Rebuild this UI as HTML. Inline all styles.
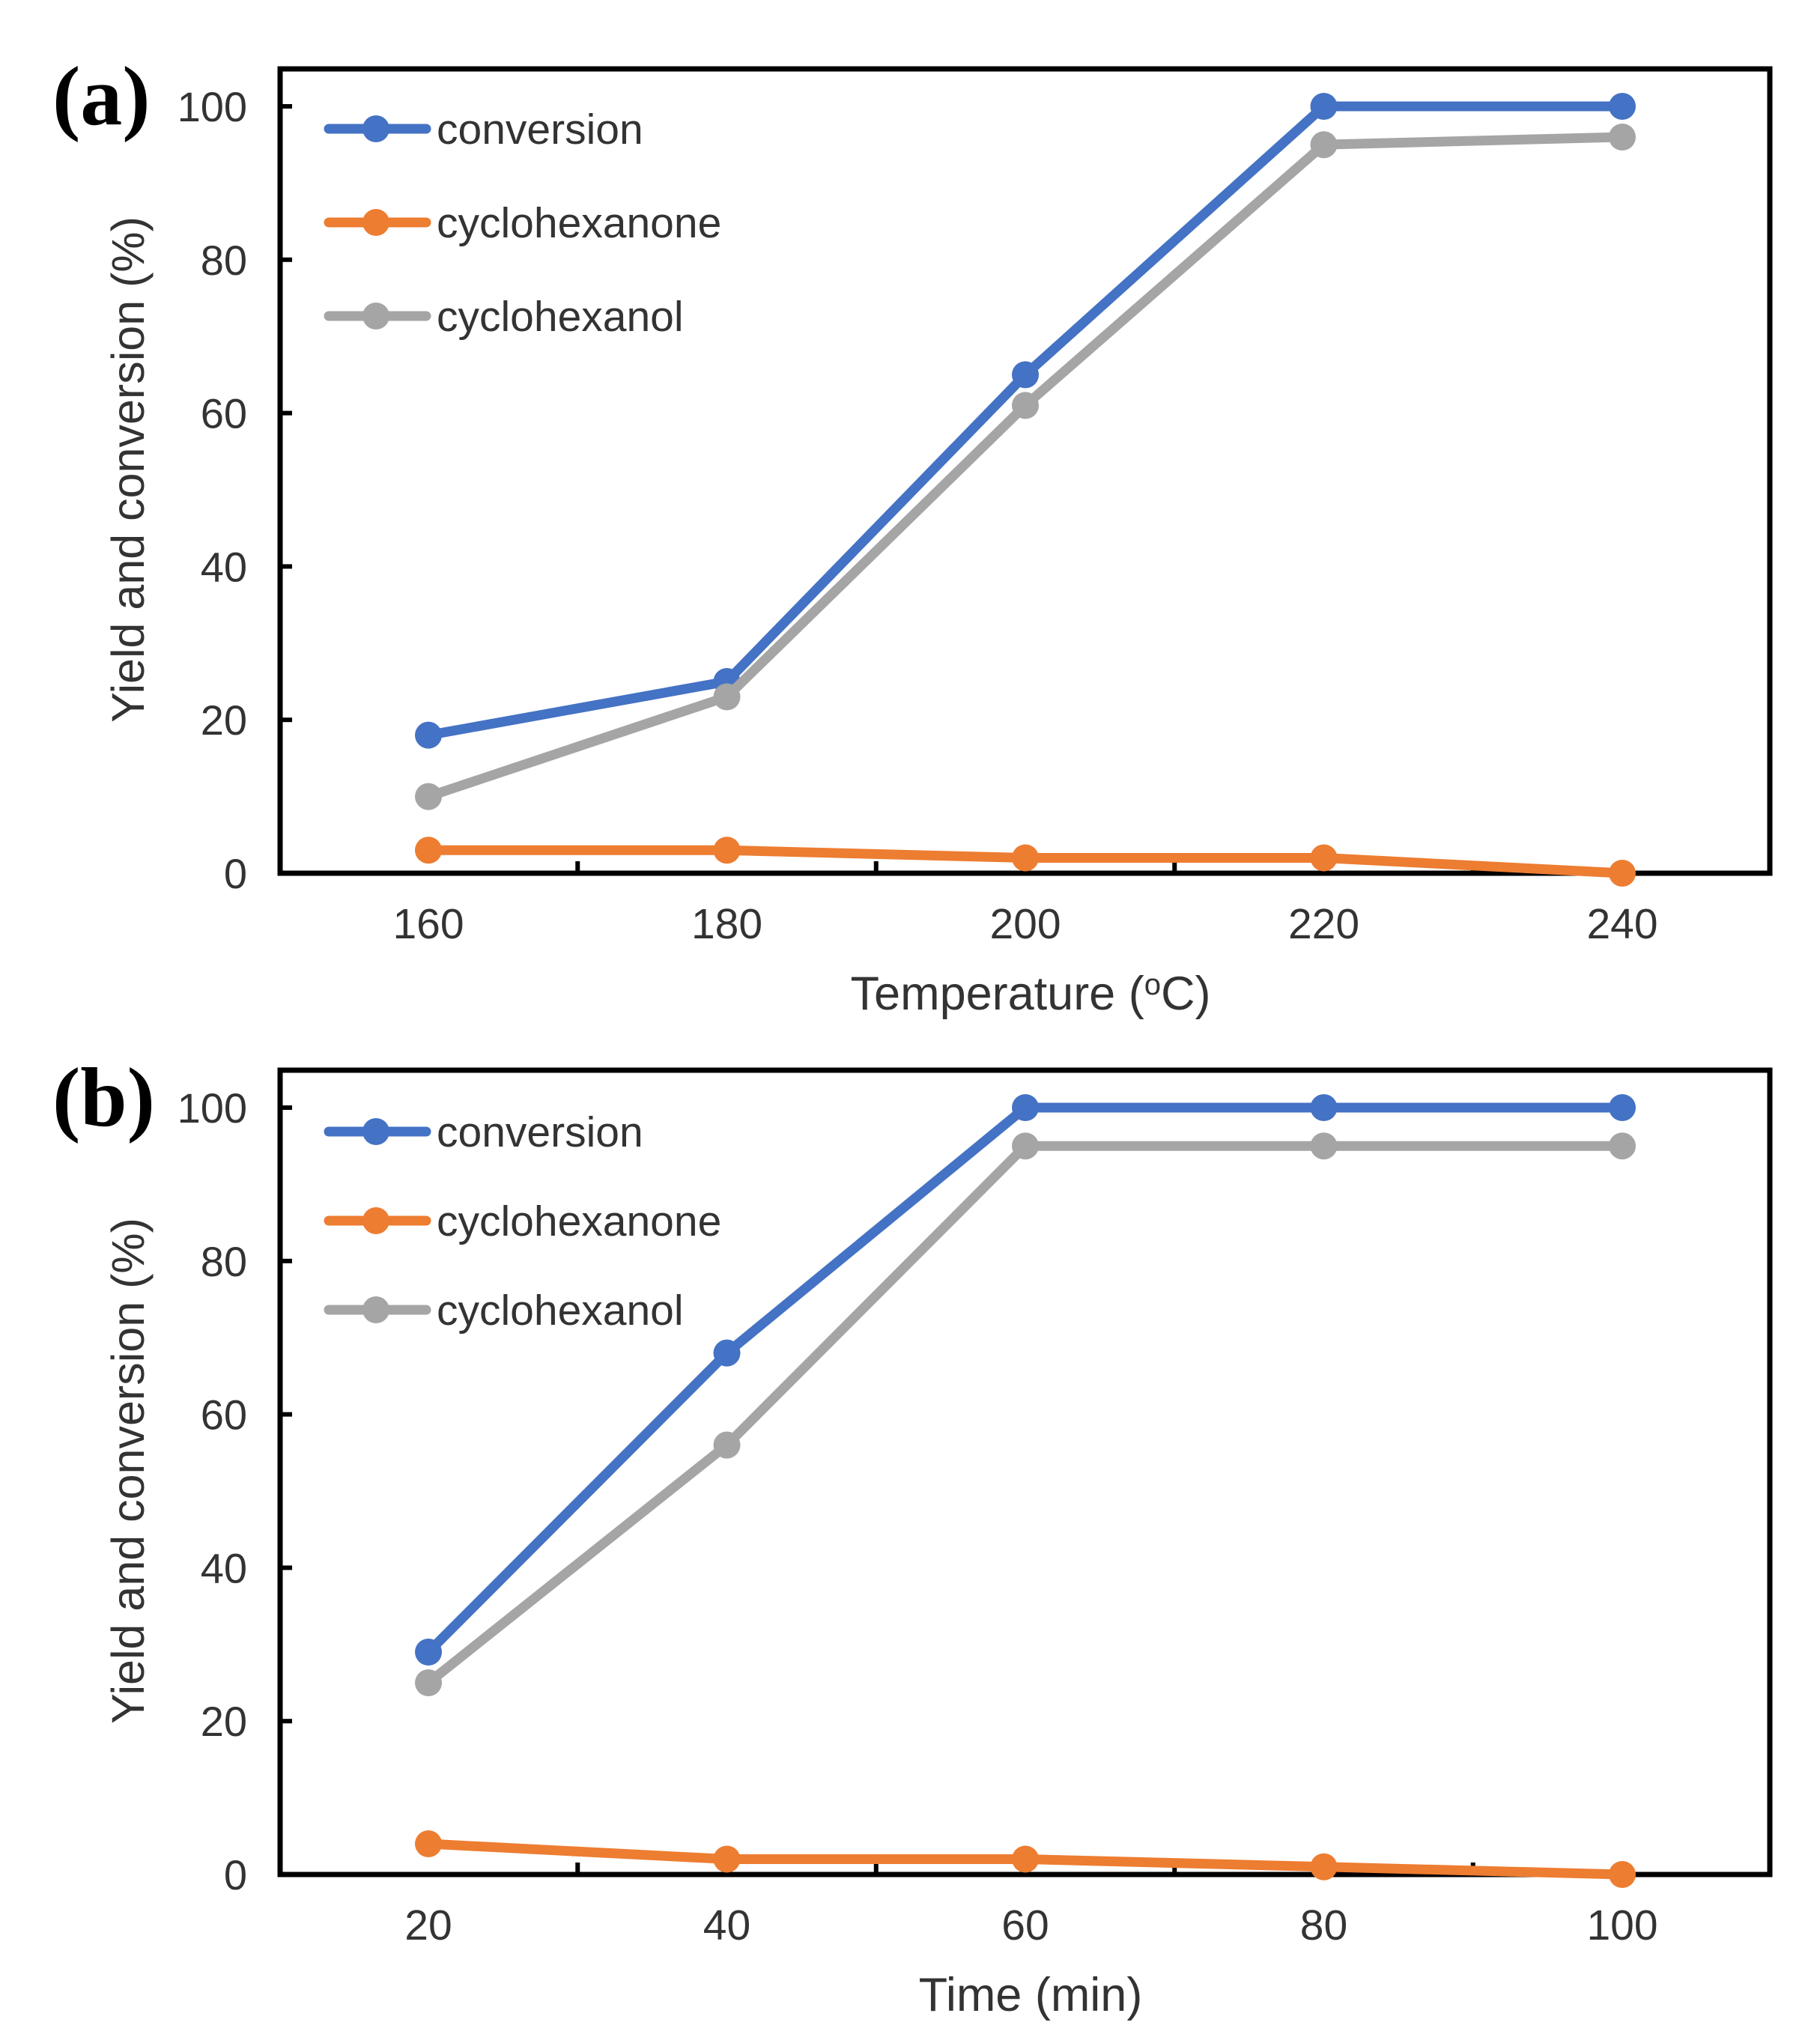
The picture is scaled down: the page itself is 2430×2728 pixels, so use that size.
<!DOCTYPE html>
<html><head><meta charset="utf-8">
<style>
html,body{margin:0;padding:0;background:#fff;}
svg{display:block;}
text{font-family:"Liberation Sans",sans-serif;fill:#333;}
</style></head>
<body>
<svg id="fig" width="2430" height="2728" viewBox="0 0 2430 2728" xmlns="http://www.w3.org/2000/svg"></svg>
<script>
const categoriesA = [160, 180, 200, 220, 240];
const conversionA = [18, 25, 65, 100, 100];
const cyclohexanoneA = [3, 3, 2, 2, 0];
const cyclohexanolA = [10, 23, 61, 95, 96];
const categoriesB = [20, 40, 60, 80, 100];
const conversionB = [29, 68, 100, 100, 100];
const cyclohexanoneB = [4, 2, 2, 1, 0];
const cyclohexanolB = [25, 56, 95, 95, 95];
const yTicks = [0, 20, 40, 60, 80, 100];
const seriesNames = ['conversion', 'cyclohexanone', 'cyclohexanol'];

const NS = 'http://www.w3.org/2000/svg';
const svg = document.getElementById('fig');
const colors = ['#4472C4', '#ED7D31', '#A5A5A5'];
function mk(tag, attrs, parent) {
  const e = document.createElementNS(NS, tag);
  for (const k in attrs) e.setAttribute(k, attrs[k]);
  (parent || svg).appendChild(e);
  return e;
}
function panel(id, top, label, cats, series, xTitle, legendYs) {
  const g = mk('g', {});
  
  
  const L = 374, R = 2363, T = top, B = top + 1074;
  const x0 = 572, step = 398.5;
  const xs = i => x0 + i * step;
  const ys = v => B - v * 10.24;
  const pl = mk('text', {x: 70, y: top + 74, 'font-size': 112, 'font-weight': 'bold'}, g);
  pl.style.fontFamily = '"Liberation Serif",serif';
  pl.style.fill = '#000';
  pl.textContent = label;
  
  
  const fr = mk('rect', {x: L, y: T, width: R - L, height: B - T, fill: 'none', stroke: '#000', 'stroke-width': 7}, g);
  
  
  yTicks.forEach(v => {
    mk('line', {x1: L, x2: L + 16, y1: ys(v), y2: ys(v), stroke: '#000', 'stroke-width': 6}, g);
    const t = mk('text', {x: 330, y: ys(v) + 20, 'font-size': 56, 'text-anchor': 'end'}, g);
    t.textContent = v;
    
    
  });
  cats.forEach((c, i) => {
    if (i > 0) mk('line', {x1: xs(i) - step / 2, x2: xs(i) - step / 2, y1: B, y2: B - 16, stroke: '#000', 'stroke-width': 6}, g);
    const t = mk('text', {x: xs(i), y: B + 87, 'font-size': 57, 'text-anchor': 'middle'}, g);
    t.textContent = c;
    
    
  });
  const xt = mk('text', {x: 1376, y: B + 182, 'font-size': 63, 'text-anchor': 'middle'}, g);
  xt.innerHTML = xTitle;
  
  
  const cy = (T + B) / 2 - 2;
  const yt = mk('text', {x: 0, y: 0, 'font-size': 61, 'text-anchor': 'middle', transform: `translate(192,${cy}) rotate(-90)`}, g);
  yt.textContent = 'Yield and conversion (%)';
  
  
  series.forEach((vals, s) => {
    const sg = mk('g', {}, g);
    
    
    const pts = vals.map((v, i) => xs(i) + ',' + ys(v)).join(' ');
    mk('polyline', {points: pts, fill: 'none', stroke: colors[s], 'stroke-width': 13, 'stroke-linejoin': 'round'}, sg);
    vals.forEach((v, i) => {
      const c = mk('circle', {cx: xs(i), cy: ys(v), r: 18, fill: colors[s]}, sg);
      
      
    });
  });
  seriesNames.forEach((n, s) => {
    const lg = mk('g', {}, g);
    
    
    const y = legendYs[s];
    mk('line', {x1: 439, x2: 569, y1: y, y2: y, stroke: colors[s], 'stroke-width': 13, 'stroke-linecap': 'round'}, lg);
    mk('circle', {cx: 502, cy: y, r: 18, fill: colors[s]}, lg);
    const t = mk('text', {x: 583, y: y + 20, 'font-size': 57}, lg);
    t.textContent = n;
  });
}
panel('a', 92, '(a)', categoriesA, [conversionA, cyclohexanoneA, cyclohexanolA], 'Temperature (<tspan font-size="40" dy="-20">o</tspan><tspan dy="20">C)</tspan>', [172, 297, 422]);
panel('b', 1429, '(b)', categoriesB, [conversionB, cyclohexanoneB, cyclohexanolB], 'Time (min)', [1511, 1630, 1749]);
</script>
</body></html>
